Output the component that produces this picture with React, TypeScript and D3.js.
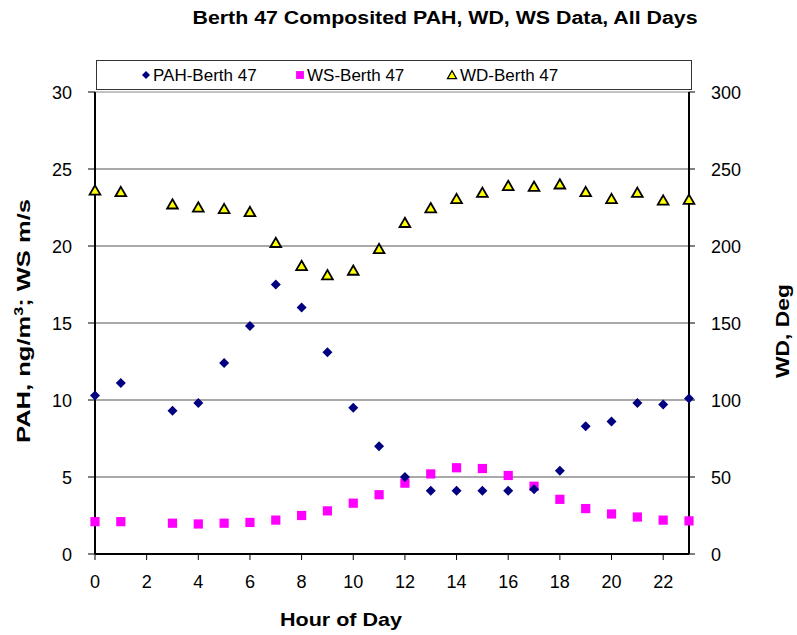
import React from "react";
import * as d3 from "d3";

const hours = [0, 1, 3, 4, 5, 6, 7, 8, 9, 10, 11, 12, 13, 14, 15, 16, 17, 18, 19, 20, 21, 22, 23];
const pah = [10.3, 11.1, 9.3, 9.8, 12.4, 14.8, 17.5, 16.0, 13.1, 9.5, 7.0, 5.0, 4.1, 4.1, 4.1, 4.1, 4.2, 5.4, 8.3, 8.6, 9.8, 9.7, 10.1];
const ws = [2.1, 2.1, 2.0, 1.95, 2.0, 2.05, 2.2, 2.5, 2.8, 3.3, 3.85, 4.6, 5.2, 5.6, 5.55, 5.1, 4.4, 3.55, 2.95, 2.6, 2.4, 2.2, 2.15];
const wd = [236, 235, 227, 225, 224, 222, 202, 187, 181, 184, 198, 215, 224.5, 230.5, 234.5, 239, 238.5, 240, 235, 230.5, 234.5, 229.5, 230];
const xTicks = [0, 2, 4, 6, 8, 10, 12, 14, 16, 18, 20, 22];
const leftTicks = [0, 5, 10, 15, 20, 25, 30];
const rightTicks = [0, 50, 100, 150, 200, 250, 300];
const seriesNames = ["PAH-Berth 47", "WS-Berth 47", "WD-Berth 47"];

const W = 797, H = 635;
const L = 95, R = 689, T = 92, B = 554;
const FONT = "Liberation Sans, Arial, sans-serif";

const diamondPath = (r: number) => `M0,${-r}L${r},0L0,${r}L${-r},0Z`;

export default function App() {
  const x = d3.scaleLinear().domain([0, 23]).range([L, R]);
  const yL = d3.scaleLinear().domain([0, 30]).range([B, T]);
  const yR = d3.scaleLinear().domain([0, 300]).range([B, T]);
  const sym = (type: any, size: number) => d3.symbol().type(type).size(size)() as string;
  const diamond = diamondPath(5);
  const square = sym(d3.symbolSquare, 85);
  const tri = sym(d3.symbolTriangle, 50);

  return (
    <svg width={W} height={H} style={{ position: "absolute", left: 0, top: 0, fontFamily: FONT }}>
      <rect x={0} y={0} width={W} height={H} fill="#fff" />
      <text x={445} y={24} textAnchor="middle" fontSize={17.5} fontWeight="bold" textLength={505} lengthAdjust="spacingAndGlyphs">
        Berth 47 Composited PAH, WD, WS Data, All Days
      </text>
      {/* legend */}
      <rect x={96.5} y={60.5} width={595} height={29} fill="#fff" stroke="#333" strokeWidth={1} />
      <g fontSize={17}>
        <path d={diamondPath(4)} transform="translate(146,75)" fill="#000080" />
        <text x={153} y={81}>{seriesNames[0]}</text>
        <path d={square} transform="translate(300,75) scale(0.85)" fill="#ff00ff" />
        <text x={307} y={81}>{seriesNames[1]}</text>
        <path d={tri} transform="translate(452,76) scale(0.85)" fill="#ffff00" stroke="#000" strokeWidth={1.5} />
        <text x={460} y={81}>{seriesNames[2]}</text>
      </g>
      {/* gridlines */}
      {leftTicks.filter(t => t > 0).map(t => (
        <line key={"g" + t} x1={L} x2={R} y1={yL(t)} y2={yL(t)} stroke={t === 30 ? "#888" : "#555"} strokeWidth={1.2} />
      ))}
      {/* axes frame */}
      <line x1={L} x2={L} y1={T} y2={B} stroke="#000" strokeWidth={2} />
      <line x1={R} x2={R} y1={T} y2={B} stroke="#000" strokeWidth={2} />
      <line x1={L} x2={R} y1={B} y2={B} stroke="#000" strokeWidth={2} />
      {/* left ticks */}
      {leftTicks.map(t => (
        <g key={"l" + t}>
          <line x1={L - 7} x2={L} y1={yL(t)} y2={yL(t)} stroke="#000" strokeWidth={1} />
          <text x={72} y={yL(t) + 6.5} textAnchor="end" fontSize={18}>{t}</text>
        </g>
      ))}
      {rightTicks.map(t => (
        <g key={"r" + t}>
          <line x1={R} x2={R + 6} y1={yR(t)} y2={yR(t)} stroke="#000" strokeWidth={1} />
          <text x={711} y={yR(t) + 6.5} textAnchor="start" fontSize={18}>{t}</text>
        </g>
      ))}
      {xTicks.map(t => (
        <g key={"x" + t}>
          <line x1={x(t)} x2={x(t)} y1={B} y2={B + 6} stroke="#000" strokeWidth={1} />
          <text x={x(t)} y={588} textAnchor="middle" fontSize={18}>{t}</text>
        </g>
      ))}
      {/* axis titles */}
      <text x={341} y={626} textAnchor="middle" fontSize={19} fontWeight="bold" textLength={122} lengthAdjust="spacingAndGlyphs">Hour of Day</text>
      <text transform={`translate(30,321) rotate(-90)`} textAnchor="middle" fontSize={19} fontWeight="bold" textLength={244} lengthAdjust="spacingAndGlyphs">
        PAH, ng/m<tspan dy={-7} fontSize={12}>3</tspan><tspan dy={7}>; WS m/s</tspan>
      </text>
      <text transform={`translate(789,331) rotate(-90)`} textAnchor="middle" fontSize={19} fontWeight="bold" textLength={94} lengthAdjust="spacingAndGlyphs">
        WD, Deg
      </text>
      {/* data */}
      {hours.map((h, i) => (
        <path key={"ws" + h} d={square} transform={`translate(${x(h)},${yL(ws[i])})`} fill="#ff00ff" />
      ))}
      {hours.map((h, i) => (
        <path key={"pah" + h} d={diamond} transform={`translate(${x(h)},${yL(pah[i])})`} fill="#000080" />
      ))}
      {hours.map((h, i) => (
        <path key={"wd" + h} d={tri} transform={`translate(${x(h)},${yR(wd[i]) + 1})`} fill="#ffff00" stroke="#000" strokeWidth={1.8} />
      ))}
    </svg>
  );
}
